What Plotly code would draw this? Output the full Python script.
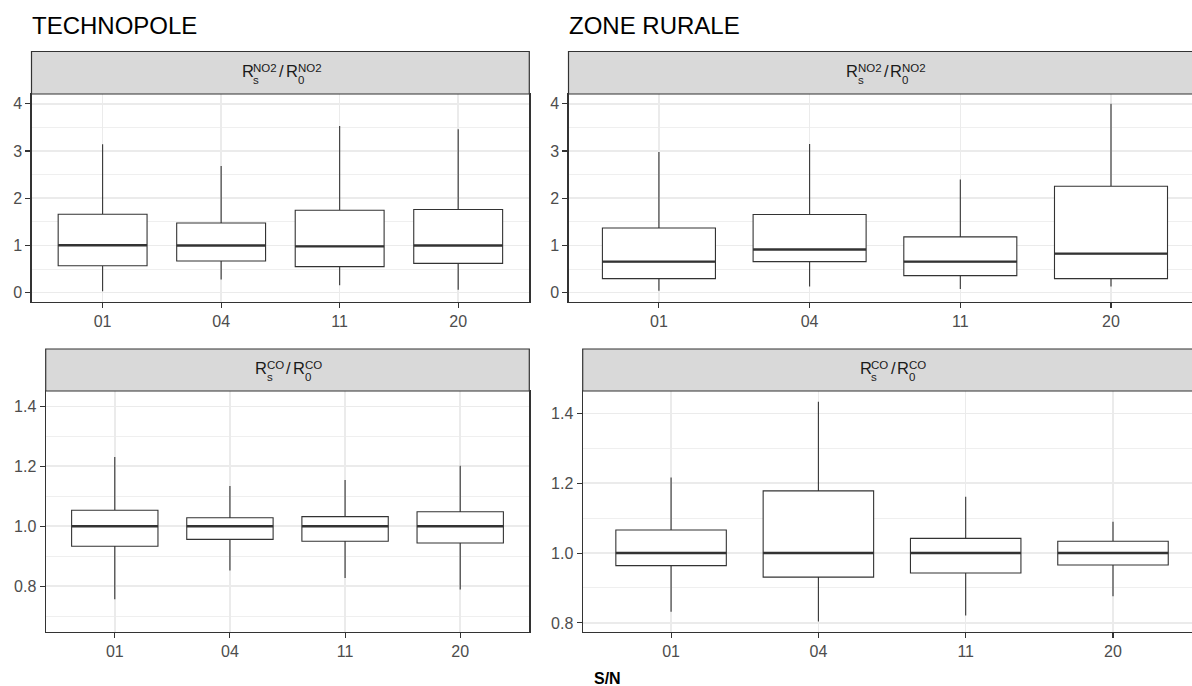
import plotly.graph_objects as go

W, H = 1192, 686

categories = ["01", "04", "11", "20"]

# TECHNOPOLE, Rs/R0 NO2
tech_no2_low = [0.03, 0.28, 0.155, 0.06]
tech_no2_q1 = [0.57, 0.67, 0.55, 0.62]
tech_no2_med = [1.003, 0.997, 0.98, 0.997]
tech_no2_q3 = [1.66, 1.476, 1.745, 1.76]
tech_no2_high = [3.145, 2.685, 3.53, 3.46]

# ZONE RURALE, Rs/R0 NO2
rural_no2_low = [0.04, 0.127, 0.078, 0.127]
rural_no2_q1 = [0.297, 0.657, 0.36, 0.297]
rural_no2_med = [0.657, 0.912, 0.657, 0.827]
rural_no2_q3 = [1.37, 1.654, 1.18, 2.254]
rural_no2_high = [2.98, 3.15, 2.396, 4.0]

# TECHNOPOLE, Rs/R0 CO
tech_co_low = [0.756, 0.852, 0.827, 0.789]
tech_co_q1 = [0.933, 0.956, 0.95, 0.944]
tech_co_med = [1.0, 1.0, 1.0, 1.0]
tech_co_q3 = [1.053, 1.028, 1.032, 1.048]
tech_co_high = [1.231, 1.134, 1.154, 1.202]

# ZONE RURALE, Rs/R0 CO
rural_co_low = [0.832, 0.804, 0.821, 0.876]
rural_co_q1 = [0.964, 0.931, 0.943, 0.966]
rural_co_med = [1.0, 1.0, 1.0, 1.0]
rural_co_q3 = [1.066, 1.178, 1.042, 1.034]
rural_co_high = [1.216, 1.433, 1.161, 1.09]

titles = ["TECHNOPOLE", "ZONE RURALE"]
axis_title = "S/N"

FONT = "Liberation Sans, Arial, Helvetica, sans-serif"
DARK = "#333333"
GRID = "#EBEBEB"
TICKTXT = "#4D4D4D"
BOXW = 0.75


def px_x(p):
    return p / W


def px_y(p):
    return 1 - p / H


# panels: (axis suffix, left px, right px, plot top px, plot bottom px, strip top px,
#          yrange, xrange, dtick, minor dtick, tick format, cut at right page edge, cat-20 px)
panels = [
    ("", 31.5, 529.3, 94, 302, 51.5, [-0.199, 4.208], [-0.6, 3.6], 1, 0.5, "d", False, None),
    ("2", 568.5, 1192, 94, 302, 51.5, [-0.199, 4.208], [-0.6, 3 + 81 / 150.7], 1, 0.5, "d", True, 1111),
    ("3", 45.7, 529.3, 391, 632, 349, [0.647, 1.451], [-0.6, 3.6], 0.2, 0.1, ".1f", False, None),
    ("4", 582.7, 1192, 391, 632, 349, [0.774, 1.464], [-0.6, 3 + 79 / 147.3], 0.2, 0.1, ".1f", True, 1113),
]

series = [
    (tech_no2_low, tech_no2_q1, tech_no2_med, tech_no2_q3, tech_no2_high),
    (rural_no2_low, rural_no2_q1, rural_no2_med, rural_no2_q3, rural_no2_high),
    (tech_co_low, tech_co_q1, tech_co_med, tech_co_q3, tech_co_high),
    (rural_co_low, rural_co_q1, rural_co_med, rural_co_q3, rural_co_high),
]

fig = go.Figure()
layout = dict(
    width=W, height=H, margin=dict(l=0, r=0, t=0, b=0),
    paper_bgcolor="white", plot_bgcolor="white", showlegend=False,
    font=dict(family=FONT, color=TICKTXT, size=16),
)
shapes = []
annotations = []

positions = list(range(len(categories)))

for (suf, l, r, t, b, st, yr, xr, dt, mdt, fmt, cut, c20), (lo, q1, md, q3, hi) in zip(panels, series):
    xa = "x" + suf
    ya = "y" + suf
    fig.add_trace(go.Box(
        x=positions, q1=q1, median=md, q3=q3, lowerfence=lo, upperfence=hi,
        xaxis=xa, yaxis=ya, fillcolor="white",
        line=dict(color=DARK, width=1.1), whiskerwidth=0, width=BOXW,
        boxpoints=False, hoverinfo="skip",
    ))
    mx, my = [], []
    for p, m in zip(positions, md):
        mx += [p - BOXW / 2, p + BOXW / 2, None]
        my += [m, m, None]
    fig.add_trace(go.Scatter(x=mx, y=my, mode="lines", xaxis=xa, yaxis=ya,
                             line=dict(color=DARK, width=2.4), hoverinfo="skip"))

    layout["xaxis" + suf] = dict(
        domain=[px_x(l), min(1.0, px_x(r))], anchor=ya, range=xr,
        tickmode="array", tickvals=positions, ticktext=categories,
        showgrid=True, gridcolor=GRID, gridwidth=1.5, zeroline=False,
        ticks="outside", ticklen=5, tickwidth=1.1, tickcolor=DARK,
        showline=True, linecolor=DARK, linewidth=1.2, mirror=True,
        tickfont=dict(family=FONT, size=16, color=TICKTXT), fixedrange=True,
    )
    layout["yaxis" + suf] = dict(
        domain=[px_y(b), px_y(t)], anchor=xa, range=yr,
        tickmode="linear", tick0=0, dtick=dt, tickformat=fmt,
        showgrid=True, gridcolor=GRID, gridwidth=1.5, zeroline=False,
        minor=dict(tick0=0, dtick=mdt, showgrid=True, gridcolor=GRID, gridwidth=0.8, ticks=""),
        ticks="outside", ticklen=5, tickwidth=1.1, tickcolor=DARK,
        showline=True, linecolor=DARK, linewidth=1.2, mirror=not cut,
        tickfont=dict(family=FONT, size=16, color=TICKTXT), fixedrange=True,
    )
    # strip
    shapes.append(dict(type="rect", xref="paper", yref="paper",
                       x0=px_x(l), x1=(1.02 if cut else px_x(r)),
                       y0=px_y(t), y1=px_y(st),
                       fillcolor="#D9D9D9", line=dict(color=DARK, width=1.2)))

# strip labels: R_s^gas / R_0^gas with stacked scripts
char_w = {"R": 0.722, "N": 0.722, "O": 0.778, "2": 0.556, "C": 0.722,
          "s": 0.5, "0": 0.556, "/": 0.278}


def tw(s, fs):
    return sum(char_w.get(c, 0.6) for c in s) * fs


FS, FSS = 16.5, 11.5
gases = ["NO2", "NO2", "CO", "CO"]
for (suf, l, r, t, b, st, *rest), gas in zip(panels, gases):
    c20 = rest[-1]
    if c20 is not None:
        s = (c20 - l) / 3.6
        r_full = l + 4.2 * s
    else:
        r_full = r
    cx = (l + r_full) / 2
    cy = (st + t) / 2
    gap = 2.0
    wR, wsup, wsl = tw("R", FS), tw(gas, FSS), tw("/", FS)
    total = wR + wsup + gap + wsl + gap + wR + wsup
    x0 = cx - total / 2
    pieces = [
        ("R", x0, cy - 1.9, FS),
        (gas, x0 + wR, cy - 5.25, FSS),
        ("s", x0 + wR, cy + 6.75, FSS),
        ("/", x0 + wR + wsup + gap, cy - 1.9, FS),
        ("R", x0 + wR + wsup + 2 * gap + wsl, cy - 1.9, FS),
        (gas, x0 + 2 * wR + wsup + 2 * gap + wsl, cy - 5.25, FSS),
        ("0", x0 + 2 * wR + wsup + 2 * gap + wsl, cy + 6.75, FSS),
    ]
    for txt, xx, yy, fs in pieces:
        annotations.append(dict(text=txt, xref="paper", yref="paper",
                                x=px_x(xx), y=px_y(yy), xanchor="left", yanchor="middle",
                                showarrow=False, borderpad=0,
                                font=dict(family=FONT, size=fs, color="#1A1A1A")))

# titles
for txt, xx in zip(titles, [30.5, 567.5]):
    annotations.append(dict(text=txt, xref="paper", yref="paper", x=px_x(xx), y=px_y(25.5),
                            xanchor="left", yanchor="middle", showarrow=False, borderpad=0,
                            font=dict(family=FONT, size=24, color="black")))

annotations.append(dict(text="<b>" + axis_title + "</b>", xref="paper", yref="paper",
                        x=px_x(607), y=px_y(678), xanchor="center", yanchor="middle",
                        showarrow=False, borderpad=0,
                        font=dict(family=FONT, size=16, color="black")))

layout["shapes"] = shapes
layout["annotations"] = annotations
fig.update_layout(**layout)
fig.write_html(
    "out.html",
    config={"displayModeBar": False, "staticPlot": True},
    post_script="document.body.style.margin='0';document.body.style.padding='0';"
                "document.body.style.overflow='hidden';",
)
